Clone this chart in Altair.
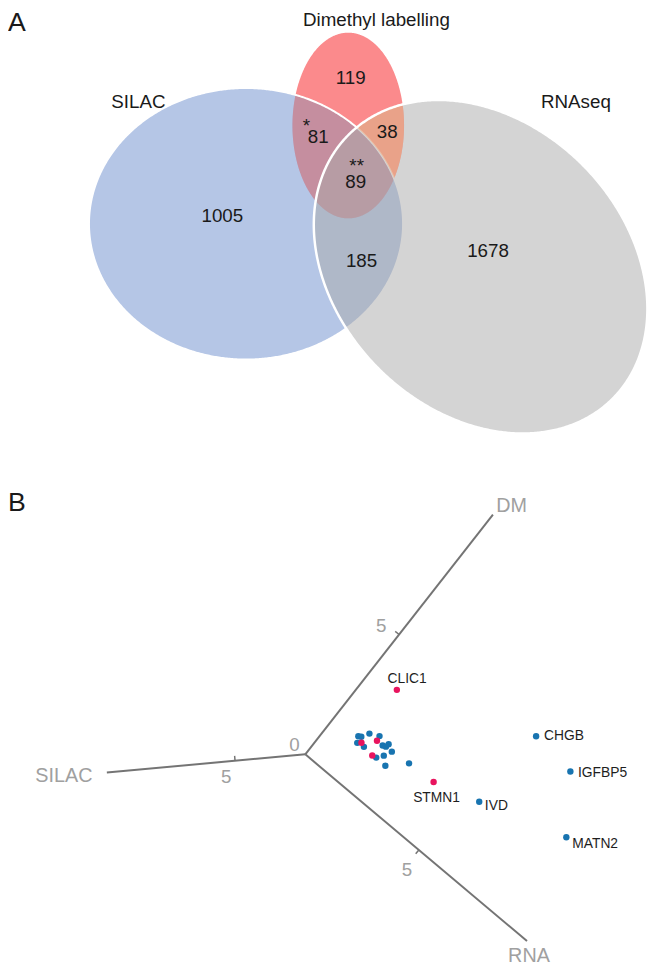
import altair as alt
import numpy as np
import pandas as pd

# ---------------- data: panel A (Venn counts) ----------------
region_keys = ["DM only", "SILAC & DM", "DM & RNA", "all three", "SILAC only", "SILAC & RNA", "RNA only"]
region_counts = [119, 81, 38, 89, 1005, 185, 1678]
region_marks = ["", "*", "", "**", "", "", ""]
set_names = ["Dimethyl labelling", "SILAC", "RNAseq"]

# ---------------- data: panel B (fold changes on the DM / RNA axes) ----------------
gene_names = ["CLIC1", "STMN1", "IVD", "CHGB", "IGFBP5", "MATN2",
              "", "", "", "", "", "", "", "", "", "", "", "", "", "",
              "", "", ""]
gene_dm = [3.56, 2.02, 2.49, 5.34, 5.18, 3.44,
           1.58, 1.63, 1.88, 1.39, 1.43, 2.03, 1.86, 2.02, 1.90, 1.90, 1.63, 1.42, 1.41, 1.97,
           1.48, 1.86, 1.39]
gene_rna = [1.09, 3.98, 5.60, 5.75, 7.39, 8.65,
            1.03, 1.12, 1.27, 1.14, 1.40, 1.59, 1.87, 2.00, 1.98, 2.24, 2.11, 1.95, 2.36, 2.94,
            1.25, 1.62, 1.80]
gene_group = ["pink", "pink", "blue", "blue", "blue", "blue",
              "blue", "blue", "blue", "blue", "blue", "blue", "blue", "blue", "blue", "blue",
              "blue", "blue", "blue", "blue",
              "pink", "pink", "pink"]
axis_names = ["SILAC", "DM", "RNA"]
axis_max = [14.13, 10.0, 9.76]
axis_tick = [5, 5, 5]

# ---------------- layout / style (not data) ----------------
W, H = 648, 958
X0, Y0 = 8, 8
FONT = "Liberation Sans"
xs = alt.Scale(domain=[X0, X0 + W], nice=False, zero=False)
ys = alt.Scale(domain=[Y0, Y0 + H], reverse=True, nice=False, zero=False)


def enc(**kw):
    out = {}
    for k, v in kw.items():
        if k == "x":
            out[k] = alt.X(v, type="quantitative", scale=xs, axis=None)
        elif k == "y":
            out[k] = alt.Y(v, type="quantitative", scale=ys, axis=None)
        elif k == "x2":
            out[k] = alt.X2(v)
        elif k == "y2":
            out[k] = alt.Y2(v)
        else:
            out[k] = v
    return out


# ellipse geometry: centre x, centre y, semi-axis a, semi-axis b, rotation (deg)
E_RED = (352.5, 121, 56.5, 94, 0)
E_BLUE = (249, 220.5, 159, 137.5, 0)
E_GREY = (486.5, 264, 189, 146, 45)


def x_extent(e):
    cx, cy, a, b, th = e
    t = np.radians(th)
    xe = np.sqrt((a * np.cos(t)) ** 2 + (b * np.sin(t)) ** 2)
    return cx - xe, cx + xe


def y_range(e, xv):
    cx, cy, a, b, th = e
    t = np.radians(th)
    c, s = np.cos(t), np.sin(t)
    X = np.asarray(xv, dtype=float) - cx
    A = s * s / a ** 2 + c * c / b ** 2
    B = 2 * X * (c * s / a ** 2 - s * c / b ** 2)
    C = X * X * (c * c / a ** 2 + s * s / b ** 2) - 1
    disc = B * B - 4 * A * C
    ok = disc >= -1e-9
    sq = np.sqrt(np.clip(disc, 0, None))
    lo = np.where(ok, cy + (-B - sq) / (2 * A), np.nan)
    hi = np.where(ok, cy + (-B + sq) / (2 * A), np.nan)
    return lo, hi


def ellipse_band(e, n=361):
    x0, x1 = x_extent(e)
    cx = (x0 + x1) / 2
    xv = cx - (x1 - x0) / 2 * np.cos(np.linspace(0, np.pi, n))
    xv[0], xv[-1] = x0 + 1e-7, x1 - 1e-7
    lo, hi = y_range(e, xv)
    return pd.DataFrame({"x": xv, "y": lo, "y2": hi})


def lens_band(e1, e2, exclude_top_of=None, n=700):
    a0, a1 = x_extent(e1)
    b0, b1 = x_extent(e2)
    x0, x1 = max(a0, b0), min(a1, b1)
    xv = np.linspace(x0, x1, n)
    lo1, hi1 = y_range(e1, xv)
    lo2, hi2 = y_range(e2, xv)
    lo = np.fmax(lo1, lo2)
    hi = np.fmin(hi1, hi2)
    if exclude_top_of is not None:
        lo3, _ = y_range(exclude_top_of, xv)
        hi = np.where(np.isnan(lo3), hi, np.fmin(hi, lo3))
    keep = (~np.isnan(lo)) & (~np.isnan(hi)) & (hi > lo)
    return pd.DataFrame({"x": xv[keep], "y": lo[keep], "y2": hi[keep]})


def area(df, **mk):
    return alt.Chart(df).mark_area(**mk).encode(**enc(x="x", y="y", y2="y2"))


red_df = ellipse_band(E_RED)
blue_df = ellipse_band(E_BLUE)
grey_df = ellipse_band(E_GREY)

red = area(red_df, fill="#fb8a8c", fillOpacity=1, strokeWidth=0)
blue_fill = area(blue_df, fill="#6b8dcd", fillOpacity=0.5, strokeWidth=0)
tint81 = area(lens_band(E_RED, E_BLUE), fill="#f09682", fillOpacity=0.3, strokeWidth=0)
blue_line = area(blue_df, fill="white", fillOpacity=0, stroke="white", strokeWidth=2)
grey_fill = area(grey_df, fill="#a9a9a9", fillOpacity=0.5, strokeWidth=0)
tint38 = area(lens_band(E_RED, E_GREY, exclude_top_of=E_BLUE), fill="#ffaa78",
              fillOpacity=0.5, strokeWidth=0)
grey_line = area(grey_df, fill="white", fillOpacity=0, stroke="white", strokeWidth=2.5)

# label positions of the Venn regions (layout)
region_pos = {"DM only": (355, 73), "SILAC & DM": (322, 133), "DM & RNA": (392, 128),
              "all three": (360, 178), "SILAC only": (225, 213), "SILAC & RNA": (366, 258),
              "RNA only": (494, 248)}
mark_pos = {"SILAC & DM": (310, 122), "all three": (361, 162)}
set_pos = {"Dimethyl labelling": (381, 14), "SILAC": (140, 97), "RNAseq": (583, 97)}

venn_df = pd.DataFrame({
    "label": [str(v) for v in region_counts],
    "x": [region_pos[k][0] for k in region_keys],
    "y": [region_pos[k][1] for k in region_keys],
})
marks_df = pd.DataFrame({
    "label": [m for m in region_marks if m],
    "x": [mark_pos[k][0] for k, m in zip(region_keys, region_marks) if m],
    "y": [mark_pos[k][1] for k, m in zip(region_keys, region_marks) if m],
})
sets_df = pd.DataFrame({
    "label": set_names,
    "x": [set_pos[n][0] for n in set_names],
    "y": [set_pos[n][1] for n in set_names],
})


def text_layer(df, field="label", size=19, color="#1a1a1a", align="center"):
    return alt.Chart(df).mark_text(font=FONT, fontSize=size, color=color, align=align,
                                   baseline="middle").encode(
        **enc(x="x", y="y"), text=alt.Text(field, type="nominal"))


venn_text = text_layer(venn_df)
marks_text = text_layer(marks_df)
sets_text = text_layer(sets_df)

panel_df = pd.DataFrame({"label": ["A", "B"], "x": [8, 8], "y": [17, 503]})
panel_text = text_layer(panel_df, size=27, align="left")

# ---------------- panel B projection (layout) ----------------
ORIGIN = (309.0, 757.7)
UNIT = {"SILAC": (-14.22, 1.30), "DM": (19.0, -24.27), "RNA": (23.0, 19.36)}


def proj(axis_vals):
    x, y = ORIGIN
    for name, v in axis_vals.items():
        x += v * UNIT[name][0]
        y += v * UNIT[name][1]
    return x, y


ax_rows = []
for name, mx in zip(axis_names, axis_max):
    ex, ey = proj({name: mx})
    ax_rows.append({"x": ORIGIN[0], "y": ORIGIN[1], "x2": ex, "y2": ey})
axes = alt.Chart(pd.DataFrame(ax_rows)).mark_rule(color="#747474", strokeWidth=2).encode(
    **enc(x="x", y="y", x2="x2", y2="y2"))

tick_dir = {"SILAC": (-0.09, -1.0), "DM": (-0.79, -0.62), "RNA": (-0.64, 0.77)}
tick_rows = []
for name, tv in zip(axis_names, axis_tick):
    tx, ty = proj({name: tv})
    dx, dy = tick_dir[name]
    tick_rows.append({"x": tx, "y": ty, "x2": tx + 5 * dx, "y2": ty + 5 * dy})
ticks = alt.Chart(pd.DataFrame(tick_rows)).mark_rule(color="#747474", strokeWidth=1.5).encode(
    **enc(x="x", y="y", x2="x2", y2="y2"))

tick_lab_off = {"SILAC": (-9, 16), "DM": (-18, -9), "RNA": (-12, 20.5)}
tl_rows = [{"label": "0", "x": ORIGIN[0] - 11, "y": ORIGIN[1] - 9.7}]
for name, tv in zip(axis_names, axis_tick):
    tx, ty = proj({name: tv})
    ox, oy = tick_lab_off[name]
    tl_rows.append({"label": str(tv), "x": tx + ox, "y": ty + oy})
tick_labels = text_layer(pd.DataFrame(tl_rows), color="#a0a0a0")

name_off = {"SILAC": (-43.5, 4), "DM": (19, -9), "RNA": (2, 15.3)}
an_rows = []
for name, mx in zip(axis_names, axis_max):
    ex, ey = proj({name: mx})
    ox, oy = name_off[name]
    an_rows.append({"label": name, "x": ex + ox, "y": ey + oy})
axis_titles = text_layer(pd.DataFrame(an_rows), size=20, color="#a0a0a0")

pts = []
for g, d, r, grp in zip(gene_names, gene_dm, gene_rna, gene_group):
    px, py = proj({"DM": d, "RNA": r})
    pts.append({"gene": g, "x": px, "y": py, "group": grp})
pts_df = pd.DataFrame(pts)
color_scale = alt.Scale(domain=["blue", "pink"], range=["#1874b0", "#e8145e"])


def point_layer(df):
    return alt.Chart(df).mark_circle(size=42, opacity=1).encode(
        **enc(x="x", y="y"), color=alt.Color("group:N", scale=color_scale, legend=None))


points_blue = point_layer(pts_df[pts_df.group == "blue"])
points_pink = point_layer(pts_df[pts_df.group == "pink"])

label_off = {"CLIC1": (-9.4, -10.6), "STMN1": (-20.7, 16), "IVD": (5.7, 4.8),
             "CHGB": (8, -0.5), "IGFBP5": (7.7, 1.2), "MATN2": (6, 6.6)}
gl = []
for row in pts:
    if row["gene"]:
        ox, oy = label_off[row["gene"]]
        gl.append({"gene": row["gene"], "x": row["x"] + ox, "y": row["y"] + oy})
gene_labels = text_layer(pd.DataFrame(gl), field="gene", size=14, color="#1e1e1e", align="left")

chart = alt.layer(
    red, blue_fill, tint81, blue_line, grey_fill, tint38, grey_line,
    venn_text, marks_text, sets_text, panel_text,
    axes, ticks, tick_labels, axis_titles, points_blue, points_pink, gene_labels
).properties(
    width=W, height=H, padding=0, autosize=alt.AutoSizeParams(type="none")
).configure_view(stroke=None)

chart.save("out.html", embed_options={"renderer": "svg", "actions": False})
